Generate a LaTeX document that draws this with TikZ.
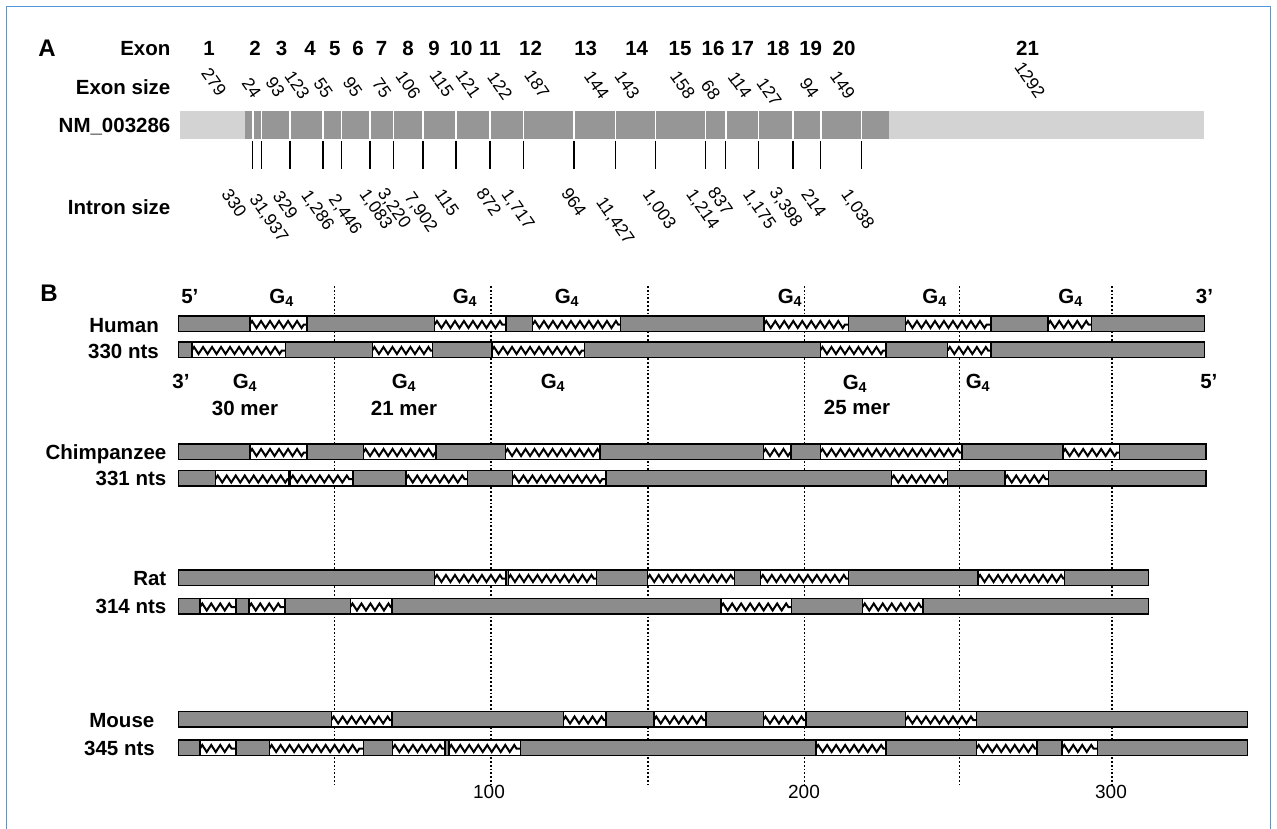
\documentclass[tikz,border=0pt]{standalone}
\usepackage{fontspec}
\setmainfont{Liberation Sans}
\usetikzlibrary{decorations.pathmorphing}
\definecolor{frameblue}{RGB}{80,150,220}
\definecolor{nmdark}{RGB}{150,150,150}
\definecolor{nmlight}{RGB}{211,211,211}
\definecolor{bargray}{RGB}{140,140,140}
\tikzset{
 lab/.style={font=\bfseries\fontsize{20.5}{24}\selectfont, inner sep=0pt, text height=14.7pt, text depth=0pt},
 rowlab/.style={lab, anchor=east},
 big/.style={font=\bfseries\fontsize{24}{28}\selectfont, inner sep=0pt},
 exnum/.style={font=\fontsize{17.5}{20}\selectfont, inner sep=0pt, rotate=-55},
 innum/.style={exnum, anchor=north west},
 tickline/.style={line width=1.5pt},
 sepline/.style={white, line width=1.6pt},
 strand/.style={fill=bargray, draw=black, line width=1.4pt},
 zig/.style={line width=2pt, decorate, decoration={zigzag, segment length=9pt, amplitude=3.5pt}},
 gridline/.style={dash pattern=on 1.8pt off 2pt, line width=1.8pt},
 scalelab/.style={font=\fontsize{19}{22}\selectfont, inner sep=0pt},
}
\newcommand{\gbx}[3]{%
  \fill[white] (#1,#3) rectangle (#2,#3+15.5);
  \begin{scope}\clip (#1,#3) rectangle (#2,#3+15.5);
  \draw[zig] (#1,#3+8.5) -- (#2,#3+8.5);\end{scope}
  \draw[black, line width=1.4pt] (#1,#3) rectangle (#2,#3+15.5);
}
\newcommand{\strandbar}[2]{\draw[strand] (178.5,#2) rectangle (#1,#2+15.5);}
\begin{document}
\begin{tikzpicture}[x=1pt,y=-1pt]
\useasboundingbox (0,0) rectangle (1277,828);
\begin{scope}
\clip (0,0) rectangle (1277,828);
\draw[frameblue, line width=1.2pt] (6.5,850) -- (6.5,6.5) -- (1270.5,6.5) -- (1270.5,850);
\end{scope}
% ---------------- Panel A
\node[big] (A) at (47,48) {A};
\node[rowlab] (exonlab) at (170.6,48) {Exon};
\node[rowlab] (exsizelab) at (170.6,87) {Exon size};
\node[rowlab] (nmlab) at (170.6,125) {NM\_003286};
\node[rowlab] (inlab) at (170.6,207) {Intron size};
\foreach \x/\n in {209/1,255/2,281.6/3,310/4,334.7/5,358/6,381.6/7,408/8,434/9,461/10,490/11,530.6/12,585.7/13,636.7/14,680/15,713/16,742.5/17,778/18,810.7/19,844/20,1027.5/21}
  \node[lab] (ex\n) at (\x,48) {\n};
\foreach \x/\y/\t [count=\i] in {214/81.7/279,251.7/88.3/24,275.3/86.7/93,297.3/85/123,323.3/88.3/55,352.7/87.3/95,381.7/88.3/75,408.3/85/106,441.7/84/115,468.3/84/121,500/85.7/122,537/84/187,596.7/85/144,627.3/85/143,682.7/85/158,710.7/90/68,740/85/114,769.3/91.7/127,809.3/88.3/94,842.7/85/149,1030/80/1292}
  \node[exnum] (es\i) at (\x,\y) {\t};
% gene bar
\fill[nmlight] (180,111) rectangle (1204,139);
\fill[nmdark] (245,111) rectangle (889,139);
\foreach \x [count=\i] in {252.7,261.5,290,323,341.5,370,393.3,423,456,490,523.5,574,615.5,655.5,705.5,725.7,758.3,793,820.7,861.3} {
  \draw[sepline] (\x,111) -- (\x,139);
  \draw[tickline] (\x,141) -- (\x,169);
}
\node[innum] (in1) at (231,187) {330};
\node[innum] (in2) at (259,192) {31,937};
\node[innum] (in3) at (282.3,189.7) {329};
\node[innum] (in4) at (310.7,188.3) {1,286};
\node[innum] (in5) at (338.3,192.3) {2,446};
\node[innum] (in6) at (369,187.3) {1,083};
\node[innum] (in7) at (387.3,186.3) {3,220};
\node[innum] (in8) at (414,190.7) {7,902};
\node[innum] (in9) at (444,187.3) {115};
\node[innum] (in10) at (485.7,186.3) {872};
\node[innum] (in11) at (510.7,187.3) {1,717};
\node[innum] (in12) at (570.7,186.3) {964};
\node[innum] (in13) at (605.7,195.7) {11,427};
\node[innum] (in14) at (652.3,187.3) {1,003};
\node[innum] (in15) at (695.7,187.3) {1,214};
\node[innum] (in16) at (717.3,185.7) {837};
\node[innum] (in17) at (752.3,187.3) {1,175};
\node[innum] (in18) at (779,185.7) {3,398};
\node[innum] (in19) at (810.7,187.3) {214};
\node[innum] (in20) at (850.7,187.3) {1,038};
% ---------------- Panel B
\node[big] (B) at (49,293) {B};
\foreach \x in {334.5,491,648,804.5,959.5,1112}
  \draw[gridline] (\x,286) -- (\x,784);
\node[scalelab] (s100) at (489,792) {100};
\node[scalelab] (s200) at (804,792) {200};
\node[scalelab] (s300) at (1111,792) {300};
% Human
\node[rowlab] (human) at (159,325) {Human};
\node[rowlab] (humannts) at (159,351) {330 nts};
\strandbar{1204.5}{316}
\strandbar{1204.5}{342}
\gbx{249.8}{306.9}{316}\gbx{434.7}{506}{316}\gbx{532.7}{620.4}{316}\gbx{764}{848.3}{316}\gbx{905.7}{990.8}{316}\gbx{1048}{1091.4}{316}
\gbx{191.8}{285.7}{342}\gbx{372.2}{432.7}{342}\gbx{491.8}{584.5}{342}\gbx{820.2}{885.8}{342}\gbx{947.6}{990.8}{342}
\node[lab] (h5) at (189.8,296) {5’};
\node[lab] (hg1) at (281.6,296) {G\textsubscript{4}};
\node[lab] (hg2) at (465,296) {G\textsubscript{4}};
\node[lab] (hg3) at (567,296) {G\textsubscript{4}};
\node[lab] (hg4) at (790,296) {G\textsubscript{4}};
\node[lab] (hg5) at (934.6,296) {G\textsubscript{4}};
\node[lab] (hg6) at (1070.6,296) {G\textsubscript{4}};
\node[lab] (h3) at (1204.5,296) {3’};
\node[lab] (b3) at (181,381) {3’};
\node[lab] (bg1) at (245,381) {G\textsubscript{4}};
\node[lab] (m30) at (245,408) {30 mer};
\node[lab] (bg2) at (404,381) {G\textsubscript{4}};
\node[lab] (m21) at (404,408) {21 mer};
\node[lab] (bg3) at (553,381) {G\textsubscript{4}};
\node[lab] (bg4) at (855,382) {G\textsubscript{4}};
\node[lab] (m25) at (857,407) {25 mer};
\node[lab] (bg5) at (978,381) {G\textsubscript{4}};
\node[lab] (b5) at (1208.8,381) {5’};
% Chimpanzee
\node[rowlab] (chimp) at (166.5,452) {Chimpanzee};
\node[rowlab] (chimpnts) at (166.5,478.5) {331 nts};
\strandbar{1205.8}{444}
\strandbar{1205.8}{470.5}
\gbx{249.8}{306.9}{444}\gbx{363.3}{435.9}{444}\gbx{505.3}{600}{444}\gbx{763.2}{790.8}{444}\gbx{820.2}{961.8}{444}\gbx{1062.9}{1119.4}{444}
\gbx{215.5}{289}{470.5}\gbx{290.6}{353}{470.5}\gbx{406}{467.3}{470.5}\gbx{512.2}{606.1}{470.5}\gbx{891.5}{947.6}{470.5}\gbx{1005}{1048.2}{470.5}
% Rat
\node[rowlab] (rat) at (166.5,578) {Rat};
\node[rowlab] (ratnts) at (166.5,606.5) {314 nts};
\strandbar{1148.4}{570}
\strandbar{1148.4}{598.5}
\gbx{434.7}{506.1}{570}\gbx{508.2}{596.7}{570}\gbx{647.5}{734.7}{570}\gbx{760.6}{848.3}{570}\gbx{977.8}{1064.2}{570}
\gbx{200}{235.9}{598.5}\gbx{249}{284.9}{598.5}\gbx{350.2}{391.8}{598.5}\gbx{720.9}{791.3}{598.5}\gbx{862.5}{923}{598.5}
% Mouse
\node[rowlab] (mouse) at (154.5,720) {Mouse};
\node[rowlab] (mousents) at (155,748.5) {345 nts};
\strandbar{1247.7}{711.5}
\strandbar{1247.7}{740}
\gbx{331.4}{391.8}{711.5}\gbx{563.3}{606.1}{711.5}\gbx{654}{705.8}{711.5}\gbx{763.2}{806}{711.5}\gbx{905.7}{976.5}{711.5}
\gbx{200}{235.9}{740}\gbx{269.4}{363.3}{740}\gbx{392.7}{444.9}{740}\gbx{449}{520.4}{740}\gbx{815.9}{885.8}{740}\gbx{976.5}{1037}{740}\gbx{1062}{1097.4}{740}
\end{tikzpicture}
\end{document}
